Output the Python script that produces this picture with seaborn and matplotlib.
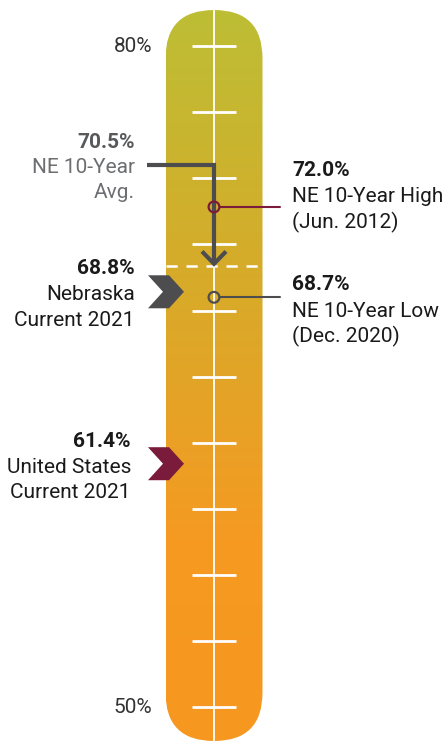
import numpy as np
import pandas as pd
import matplotlib
matplotlib.use("Agg")
import matplotlib.pyplot as plt
import seaborn as sns
from matplotlib.patches import FancyBboxPatch, Polygon
from matplotlib.colors import LinearSegmentedColormap

# Values shown on the thermometer (label text) and the level where each mark sits on the scale
scale_ticks = [50, 53, 56, 59, 62, 65, 68, 71, 74, 77, 80]
scale_labels = {80: "80%", 50: "50%"}

avg_value, avg_level = 70.5, 70.0
high_value, high_level = 72.0, 72.7
low_value, low_level = 68.7, 68.6
ne_value, ne_level = 68.8, 68.85
us_value, us_level = 61.4, 61.05

markers = pd.DataFrame({
    "name": ["NE 10-Year High", "NE 10-Year Low"],
    "level": [high_level, low_level],
    "x": [214, 214],
})

sns.set_theme(style="white")
plt.rcParams["font.family"] = ["Roboto", "DejaVu Sans"]

# colours
maroon = "#7A1B3B"
dark = "#4D4D4F"
txt = "#1A1A1A"
grey_txt = "#6D6E71"

# pixel -> percent helper, only used to lay out the text blocks
PX = 22.043
def pct(ypx):
    return 80 - (ypx - 46) / PX

fig = plt.figure(figsize=(4.46, 7.42), dpi=100)
ax = fig.add_axes([0, 0, 1, 1])
ax.set_xlim(0, 446)
ax.set_ylim(pct(742), pct(0))
ax.axis("off")

# thermometer body with a vertical gradient
bx0, bw = 165.5, 97
by0, by1 = pct(741), pct(10)
body = FancyBboxPatch((bx0, by0), bw, by1 - by0,
                      boxstyle="round,pad=0,rounding_size=48.5",
                      mutation_aspect=1 / PX, facecolor="none", edgecolor="none")
ax.add_patch(body)
cmap = LinearSegmentedColormap.from_list(
    "thermo", [(0, "#F7971F"), (0.275, "#F59A22"), (0.658, "#D5AC2A"), (1, "#BDBE35")])
grad = np.linspace(0, 1, 400).reshape(-1, 1)
im = ax.imshow(grad, cmap=cmap, extent=[bx0, bx0 + bw, by0, by1],
               origin="lower", aspect="auto", zorder=1)
im.set_clip_path(body)

# centre line and ticks
ax.plot([214, 214], [by0, by1], color="white", lw=1.3, zorder=2)
for t in scale_ticks:
    ax.plot([192, 236], [t, t], color="white", lw=2.0, zorder=2, solid_capstyle="butt")

fs = 15
for t, lab in scale_labels.items():
    ax.text(152, t - 0.27, lab, ha="right", va="baseline", fontsize=fs, color="#333333")

# dashed 10-year average line
ax.plot([bx0, bx0 + bw], [avg_level, avg_level], color="white", lw=1.8,
        dashes=(4.5, 3.5), zorder=2)

# arrow from average label
ax.plot([147, 214, 214], [pct(165), pct(165), avg_level + 0.08], color=dark, lw=3,
        solid_joinstyle="miter", solid_capstyle="butt", zorder=4)
ax.plot([202, 214, 226], [avg_level + 0.68, avg_level + 0.12, avg_level + 0.68],
        color=dark, lw=3, solid_joinstyle="miter", solid_capstyle="butt", zorder=4)

# high / low markers with connectors
ax.plot([220, 280], [high_level, high_level], color=maroon, lw=1.5, zorder=3)
ax.plot([220, 280], [low_level, low_level], color=dark, lw=1.5, zorder=3)
sns.scatterplot(data=markers, x="x", y="level", hue="name",
                palette=[maroon, dark], s=60, linewidth=1.6,
                legend=False, ax=ax, zorder=5)
sc = ax.collections[-1]
sc.set_facecolor("none")
sc.set_edgecolor([maroon, dark])

# chevrons for current values
def chevron(level, color):
    h = 16.5 / PX
    pts = [(148, level + h), (169, level + h), (184, level), (169, level - h),
           (148, level - h), (163, level)]
    ax.add_patch(Polygon(pts, closed=True, facecolor=color, edgecolor="none", zorder=4))

chevron(ne_level, dark)
chevron(us_level, maroon)

# right-side labels
ax.text(292, pct(176), f"{high_value:.1f}%", ha="left", va="baseline", fontsize=fs,
        fontweight="bold", color=txt)
ax.text(292, pct(202), "NE 10-Year High", ha="left", va="baseline", fontsize=fs, color=txt)
ax.text(292, pct(228), "(Jun. 2012)", ha="left", va="baseline", fontsize=fs, color=txt)

ax.text(292, pct(290), f"{low_value:.1f}%", ha="left", va="baseline", fontsize=fs,
        fontweight="bold", color=txt)
ax.text(292, pct(316.5), "NE 10-Year Low", ha="left", va="baseline", fontsize=fs, color=txt)
ax.text(292, pct(342), "(Dec. 2020)", ha="left", va="baseline", fontsize=fs, color=txt)

# left-side labels
ax.text(135, pct(148), f"{avg_value:.1f}%", ha="right", va="baseline", fontsize=fs,
        fontweight="bold", color="#58595B")
ax.text(135, pct(173), "NE 10-Year", ha="right", va="baseline", fontsize=fs, color=grey_txt)
ax.text(135, pct(197.5), "Avg.", ha="right", va="baseline", fontsize=fs, color=grey_txt)

ax.text(135, pct(273.5), f"{ne_value:.1f}%", ha="right", va="baseline", fontsize=fs,
        fontweight="bold", color=txt)
ax.text(135, pct(300), "Nebraska", ha="right", va="baseline", fontsize=fs, color=txt)
ax.text(135, pct(326), "Current 2021", ha="right", va="baseline", fontsize=fs, color=txt)

ax.text(131, pct(447), f"{us_value:.1f}%", ha="right", va="baseline", fontsize=fs,
        fontweight="bold", color=txt)
ax.text(131, pct(473), "United States", ha="right", va="baseline", fontsize=fs, color=txt)
ax.text(131, pct(497.5), "Current 2021", ha="right", va="baseline", fontsize=fs, color=txt)

fig.savefig("out.png", dpi=100)
